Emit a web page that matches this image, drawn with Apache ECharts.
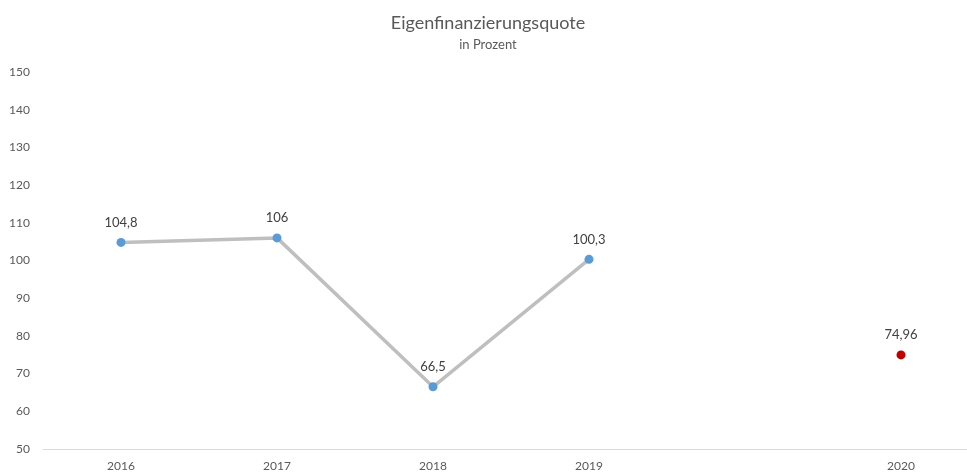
<!DOCTYPE html>
<html>
<head>
    <meta charset="UTF-8">
    <title>Eigenfinanzierungsquote</title>
    <script src="https://cdn.jsdelivr.net/npm/echarts@6/dist/echarts.min.js"></script>
    <style>
        body { margin: 0; background: #fff; overflow: hidden; }
        #wrap { width: 967px; height: 475px; overflow: hidden; }
        /* etwas breiter als das Fenster, rechter Rand ist im Original abgeschnitten */
        #chart { width: 979px; height: 475px; }
    </style>
</head>
<body>
    <div id="wrap"><div id="chart"></div></div>
    <script>
        // Daten
        var years = ['2016', '2017', '2018', '2019', '', '2020'];
        var quoteIst = [104.8, 106, 66.5, 100.3, null, null];
        var quotePlan = [null, null, null, null, null, 74.96];

        function fmt(v) {
            return String(v).replace('.', ',');
        }

        var chart = echarts.init(document.getElementById('chart'));

        var option = {
            animation: false,
            textStyle: { fontFamily: 'Lato, "Open Sans", sans-serif' },
            title: {
                text: 'Eigenfinanzierungsquote',
                subtext: 'in Prozent',
                left: 483,
                textAlign: 'center',
                top: 9,
                itemGap: 6,
                textStyle: { fontSize: 18, fontWeight: 'normal', color: '#595959' },
                subtextStyle: { fontSize: 13, color: '#595959' }
            },
            grid: { left: 43, right: 0, top: 72, bottom: 26 },
            xAxis: {
                type: 'category',
                data: years,
                boundaryGap: true,
                axisLine: { lineStyle: { color: '#D9D9D9', width: 1 } },
                axisTick: { show: false },
                axisLabel: { color: '#595959', fontSize: 12, margin: 11 }
            },
            yAxis: {
                type: 'value',
                min: 50,
                max: 150,
                interval: 10,
                axisLine: { show: false },
                axisTick: { show: false },
                splitLine: { show: false },
                axisLabel: { color: '#595959', fontSize: 12, margin: 13 }
            },
            series: [
                {
                    name: 'Ist',
                    type: 'line',
                    data: quoteIst,
                    connectNulls: false,
                    symbol: 'circle',
                    symbolSize: 9,
                    lineStyle: { color: '#BFBFBF', width: 3.5 },
                    itemStyle: { color: '#5B9BD5' },
                    label: {
                        show: true,
                        position: 'top',
                        distance: 9,
                        color: '#404040',
                        fontSize: 13,
                        formatter: function (p) { return fmt(p.value); }
                    }
                },
                {
                    name: 'Plan',
                    type: 'scatter',
                    data: quotePlan,
                    symbol: 'circle',
                    symbolSize: 9,
                    itemStyle: { color: '#C00000', opacity: 1 },
                    label: {
                        show: true,
                        position: 'top',
                        distance: 9,
                        color: '#404040',
                        fontSize: 13,
                        formatter: function (p) { return fmt(p.value); }
                    }
                }
            ]
        };

        chart.setOption(option);
    </script>
</body>
</html>
